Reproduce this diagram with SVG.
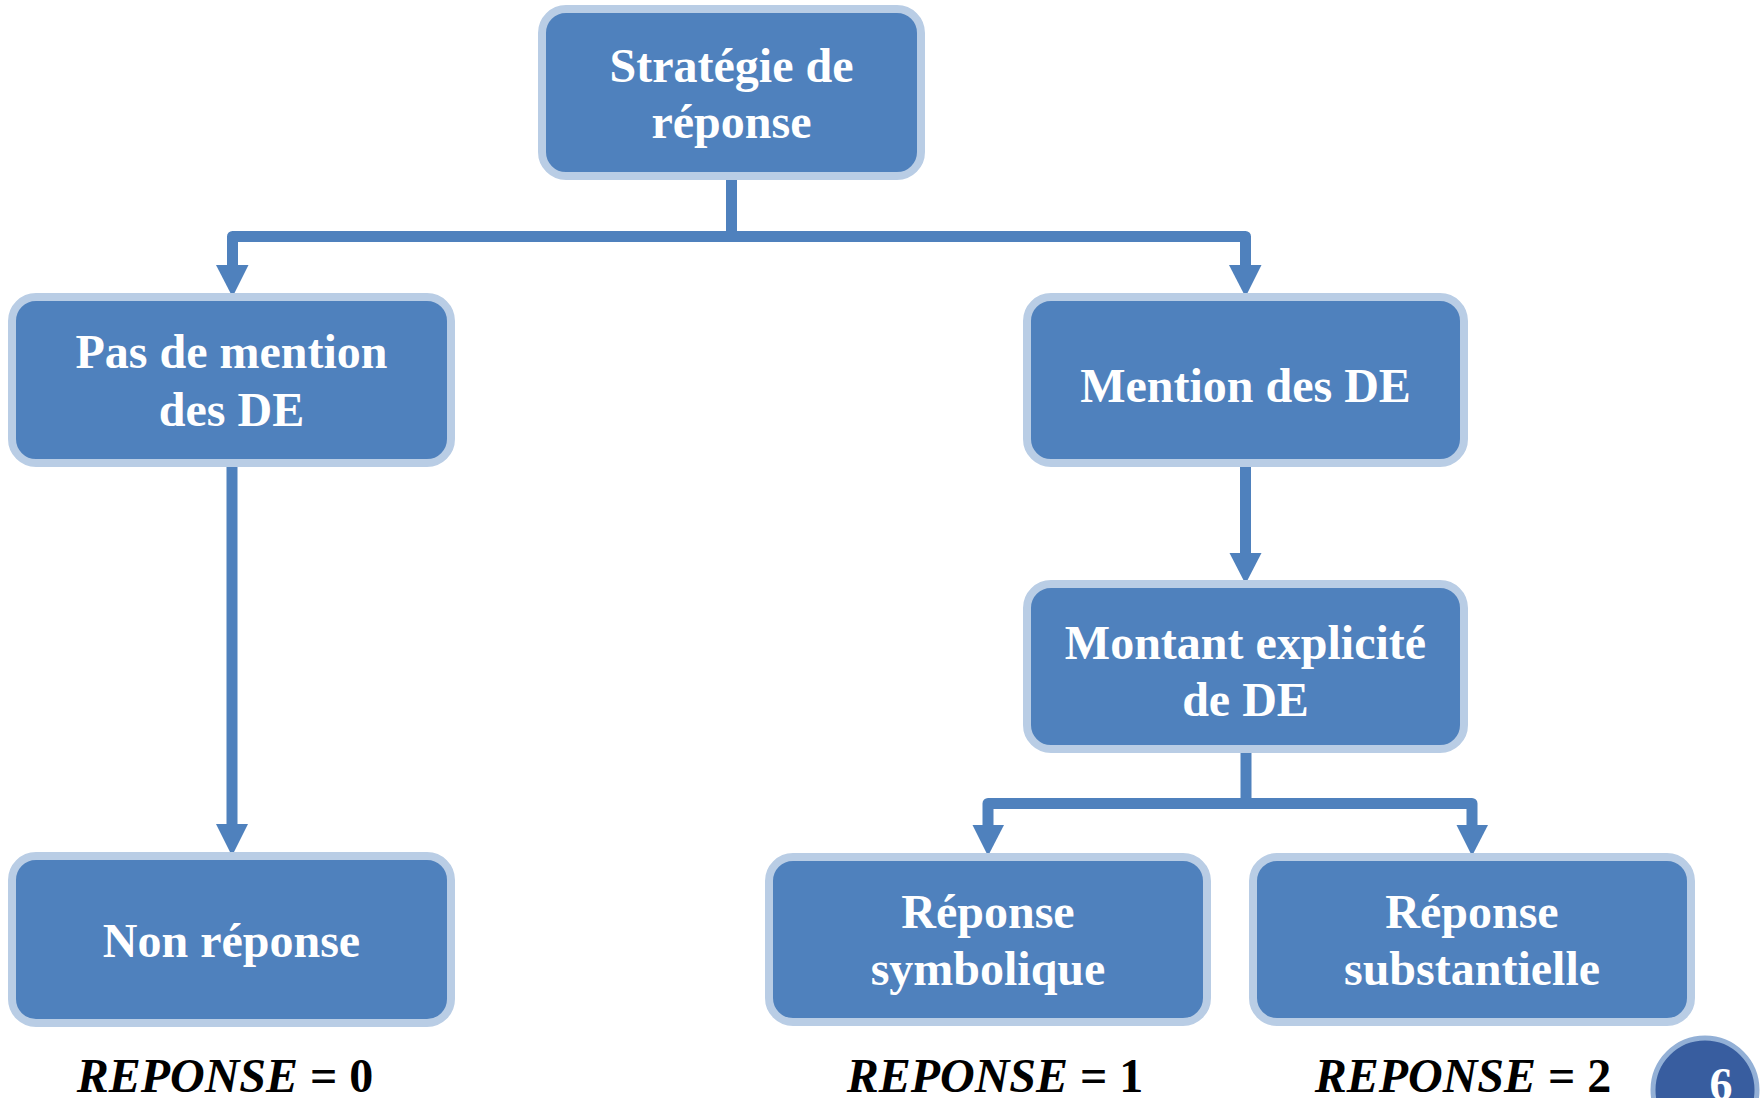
<svg xmlns="http://www.w3.org/2000/svg" width="1762" height="1098" viewBox="0 0 1762 1098">
<style>
.box{fill:#4f81bd;stroke:#b9cde5;stroke-width:8}
.lbl{font-family:"Liberation Serif","Times New Roman",serif;font-weight:bold;font-size:48px;fill:#ffffff;text-anchor:middle}
.conn{fill:none;stroke:#4f81bd;stroke-width:11;stroke-linejoin:round}
.head{fill:#4f81bd}
.res{font-family:"Liberation Serif","Times New Roman",serif;font-weight:bold;font-size:48px;fill:#000000;text-anchor:middle}
</style>
<rect width="1762" height="1098" fill="#ffffff"/>
<g id="connectors">
  <path class="conn" d="M731.5,176 V236.5"/>
  <path class="conn" d="M232.5,267 V236.5 H1245.5 V267"/>
  <polygon class="head" points="216,265 248.5,265 232.5,297"/>
  <polygon class="head" points="1229,265 1261.5,265 1245.5,297"/>
  <path class="conn" d="M232,463 V826"/>
  <polygon class="head" points="216,824 248,824 232,856"/>
  <path class="conn" d="M1245.5,463 V555"/>
  <polygon class="head" points="1229.5,553 1261.5,553 1245.5,584"/>
  <path class="conn" d="M1246,749 V803.5"/>
  <path class="conn" d="M988,827 V803.5 H1472 V827"/>
  <polygon class="head" points="972.5,825 1004,825 988,856"/>
  <polygon class="head" points="1456.5,825 1488,825 1472,856"/>
</g>
<g id="n-strategie">
  <rect class="box" x="542" y="9" width="379" height="167" rx="24"/>
  <text class="lbl" x="731.5" y="82">Stratégie de</text>
  <text class="lbl" x="731.5" y="138">réponse</text>
</g>
<g id="n-pas-mention">
  <rect class="box" x="12" y="297" width="439" height="166" rx="24"/>
  <text class="lbl" x="231.5" y="368">Pas de mention</text>
  <text class="lbl" x="231.5" y="426">des DE</text>
</g>
<g id="n-mention">
  <rect class="box" x="1027" y="297" width="437" height="166" rx="24"/>
  <text class="lbl" x="1245.5" y="402">Mention des DE</text>
</g>
<g id="n-montant">
  <rect class="box" x="1027" y="584" width="437" height="165" rx="24"/>
  <text class="lbl" x="1245.5" y="659">Montant explicité</text>
  <text class="lbl" x="1245.5" y="716">de DE</text>
</g>
<g id="n-non-reponse">
  <rect class="box" x="12" y="856" width="439" height="167" rx="24"/>
  <text class="lbl" x="231.5" y="957">Non réponse</text>
</g>
<g id="n-symbolique">
  <rect class="box" x="769" y="857" width="438" height="165" rx="24"/>
  <text class="lbl" x="988" y="928">Réponse</text>
  <text class="lbl" x="988" y="985">symbolique</text>
</g>
<g id="n-substantielle">
  <rect class="box" x="1253" y="857" width="438" height="165" rx="24"/>
  <text class="lbl" x="1472" y="928">Réponse</text>
  <text class="lbl" x="1472" y="985">substantielle</text>
</g>
<g id="results">
  <text class="res" x="225" y="1092"><tspan font-style="italic">REPONSE</tspan> = 0</text>
  <text class="res" x="995" y="1092"><tspan font-style="italic">REPONSE</tspan> = 1</text>
  <text class="res" x="1463" y="1092"><tspan font-style="italic">REPONSE</tspan> = 2</text>
</g>
<g id="page-number">
  <circle cx="1705" cy="1090" r="52" fill="#385d9f" stroke="#93b0d6" stroke-width="5"/>
  <text x="1721" y="1100" font-family="Liberation Serif, Times New Roman, serif" font-weight="bold" font-size="46" fill="#ffffff" text-anchor="middle">6</text>
</g>
</svg>
